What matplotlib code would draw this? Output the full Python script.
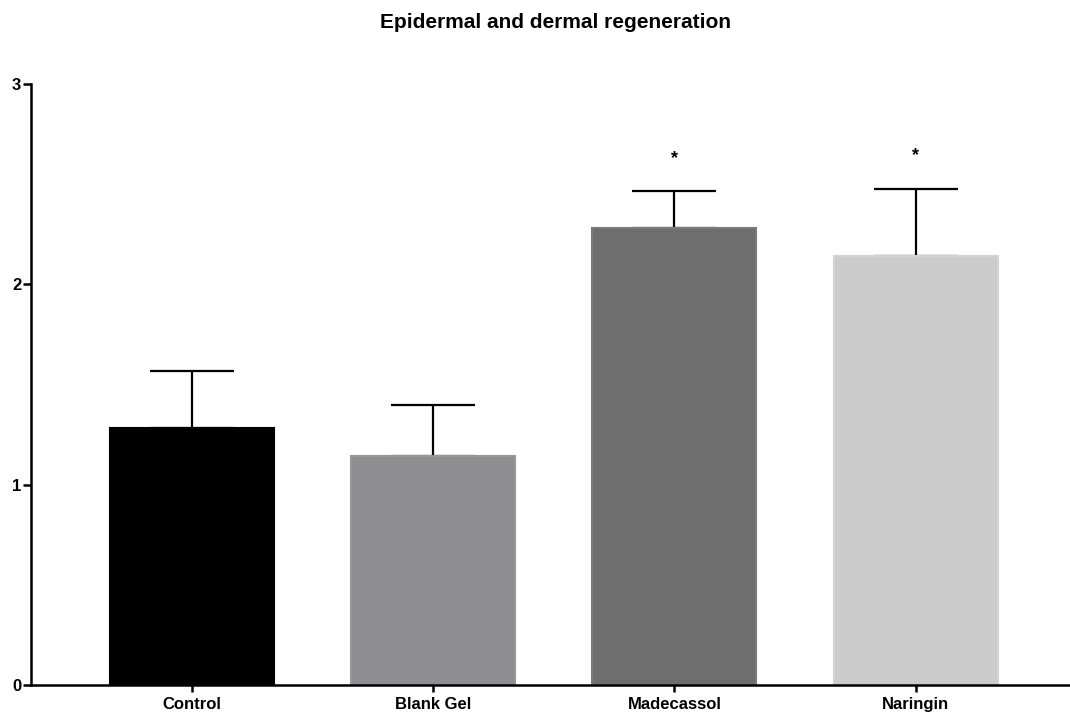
import matplotlib
matplotlib.use("Agg")
import matplotlib.pyplot as plt

# ----------------- Data -----------------
groups = ["Control", "Blank Gel", "Madecassol", "Naringin"]
means = [1.283, 1.143, 2.282, 2.142]
errors = [0.285, 0.255, 0.184, 0.336]
stars = ["", "", "*", "*"]
bar_colors = ["#000000", "#8e8d92", "#6e6e6e", "#cbcbcb"]
edge_colors = ["#000000", "#97969b", "#7a7a7a", "#d3d3d3"]

plt.rcParams["font.family"] = ["Liberation Sans", "DejaVu Sans"]
plt.rcParams["font.weight"] = "bold"

fig = plt.figure(figsize=(10.7, 7.15), dpi=100)
ax = fig.add_axes([0.029, 0.042, 0.971, 0.8405])

x = list(range(len(groups)))
ax.bar(x, means, width=0.68, color=bar_colors, edgecolor=edge_colors,
       linewidth=1.5, zorder=2)
ax.errorbar(x, means, yerr=[[0] * len(errors), errors], fmt="none",
            ecolor="black", elinewidth=1.6, capsize=30, capthick=1.6, zorder=1)

for xi, m, e, s in zip(x, means, errors, stars):
    if s:
        ax.text(xi, m + e + 0.12, s, ha="center", va="bottom",
                fontsize=13, fontweight="bold")

ax.set_xlim(-0.667, 3.64)
ax.set_ylim(0, 3)
ax.set_yticks([0, 1, 2, 3])
ax.set_xticks(x)
ax.set_xticklabels(groups, fontsize=12, fontweight="bold")
ax.tick_params(axis="y", labelsize=12, length=6, width=1.8, pad=1)
ax.tick_params(axis="x", length=5, width=1.8, pad=4)

for side in ["top", "right"]:
    ax.spines[side].set_visible(False)
for side in ["left", "bottom"]:
    ax.spines[side].set_linewidth(1.8)

fig.text(0.519, 0.968, "Epidermal and dermal regeneration", ha="center",
         va="center", fontsize=15, fontweight="bold")

fig.savefig("out.png", dpi=100)
plt.close(fig)
